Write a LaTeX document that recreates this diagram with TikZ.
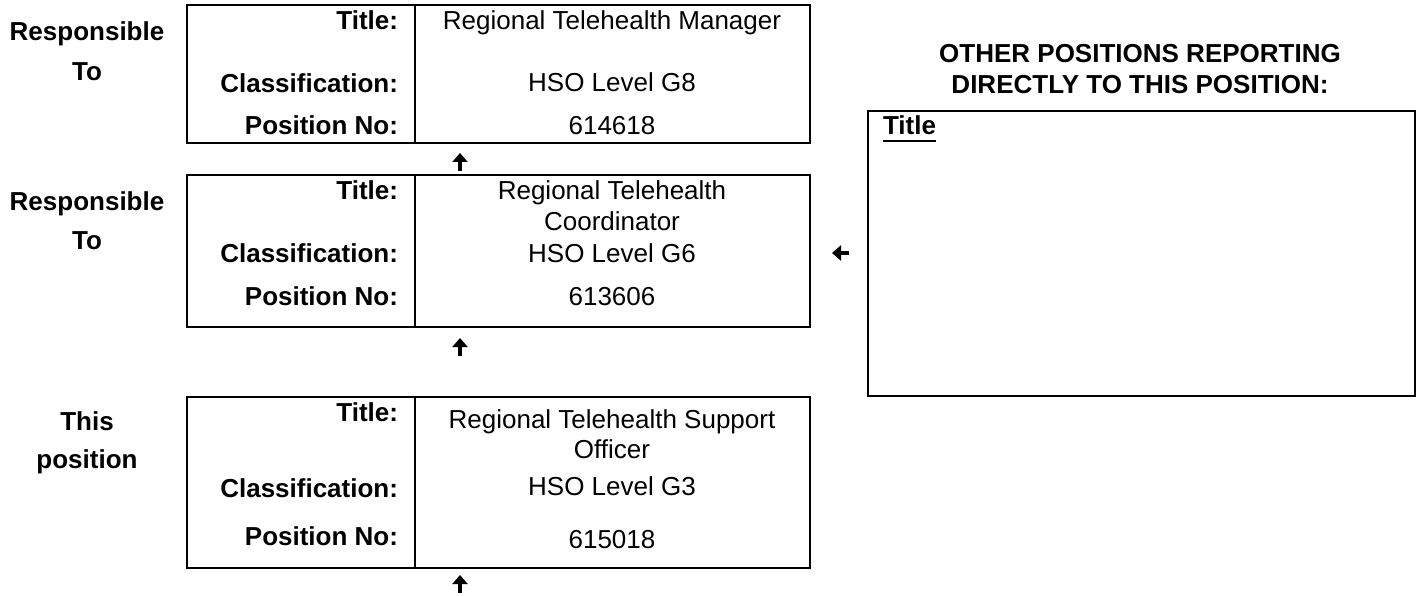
\documentclass[tikz,border=0pt]{standalone}
\usepackage{fontspec}
\setmainfont{Liberation Sans}
\usetikzlibrary{arrows.meta,calc}
\begin{document}
\begin{tikzpicture}[x=1pt,y=-1pt,
  every node/.style={inner sep=0pt, outer sep=0pt, font=\fontsize{26}{30}\selectfont},
  box/.style={draw, line width=2pt, rectangle, anchor=north west},
  divider/.style={line width=2pt},
  lab/.style={font=\fontsize{26}{30}\selectfont\bfseries, anchor=base east},
  val/.style={anchor=base},
  side/.style={font=\fontsize{26}{30}\selectfont\bfseries, anchor=base},
  head/.style={font=\fontsize{26}{30}\selectfont\bfseries, anchor=base},
  gly/.style={line width=3.5pt, -{Triangle[length=9pt,width=15pt]}}
]
\useasboundingbox (0,0) rectangle (1420,596);
\fill[white] (0,0) rectangle (1420,596);

% Box 1
\node[box, minimum width=623pt, minimum height=138pt] (b1) at (187,5) {};
\draw[divider] (415,5) -- (415,143);
\node[lab] (b1t) at (398,30) {Title:};
\node[lab] (b1c) at (398,93) {Classification:};
\node[lab] (b1p) at (398,135) {Position No:};
\node[val] (b1tv) at (612,30) {Regional Telehealth Manager};
\node[val] (b1cv) at (612,92) {HSO Level G8};
\node[val] (b1pv) at (612,135) {614618};
\node[side] (r1a) at (87,41) {Responsible};
\node[side] (r1b) at (87,81) {To};

% Box 2
\node[box, minimum width=623pt, minimum height=152pt] (b2) at (187,175) {};
\draw[divider] (415,175) -- (415,327);
\node[lab] (b2t) at (398,200) {Title:};
\node[lab] (b2c) at (398,262) {Classification:};
\node[lab] (b2p) at (398,305) {Position No:};
\node[val] (b2tv) at (612,200) {Regional Telehealth};
\node[val] (b2tw) at (612,230) {Coordinator};
\node[val] (b2cv) at (612,262) {HSO Level G6};
\node[val] (b2pv) at (612,305) {613606};
\node[side] (r2a) at (87,210) {Responsible};
\node[side] (r2b) at (87,249) {To};

% Box 3
\node[box, minimum width=623pt, minimum height=171pt] (b3) at (187,397) {};
\draw[divider] (415,397) -- (415,568);
\node[lab] (b3t) at (398,421) {Title:};
\node[lab] (b3c) at (398,497) {Classification:};
\node[lab] (b3p) at (398,545) {Position No:};
\node[val] (b3tv) at (612,428) {Regional Telehealth Support};
\node[val] (b3tw) at (612,458) {Officer};
\node[val] (b3cv) at (612,495) {HSO Level G3};
\node[val] (b3pv) at (612,548) {615018};
\node[side] (tpa) at (87,430) {This};
\node[side] (tpb) at (87,468) {position};

% Right box
\node[head] (h1) at (1140,63) {OTHER POSITIONS REPORTING};
\node[head] (h2) at (1140,94) {DIRECTLY TO THIS POSITION:};
\node[box, minimum width=547pt, minimum height=285pt] (ob) at (868,111) {};
\node[font=\fontsize{26}{30}\selectfont\bfseries, anchor=base west] (ot) at (883,135) {Title};
\draw[line width=2.5pt] ($(ot.base west)+(0,6)$) -- ($(ot.base east)+(0,6)$);

% Arrows
\coordinate (u1s) at (460,171); \coordinate (u1e) at (460,153);
\coordinate (u2s) at (460,356); \coordinate (u2e) at (460,338);
\coordinate (u3s) at (460,593); \coordinate (u3e) at (460,575);
\coordinate (l1s) at (849,253); \coordinate (l1e) at (832,253);
\draw[gly] (u1s) -- (u1e);
\draw[gly] (u2s) -- (u2e);
\draw[gly] (u3s) -- (u3e);
\draw[gly] (l1s) -- (l1e);
\end{tikzpicture}
\end{document}
